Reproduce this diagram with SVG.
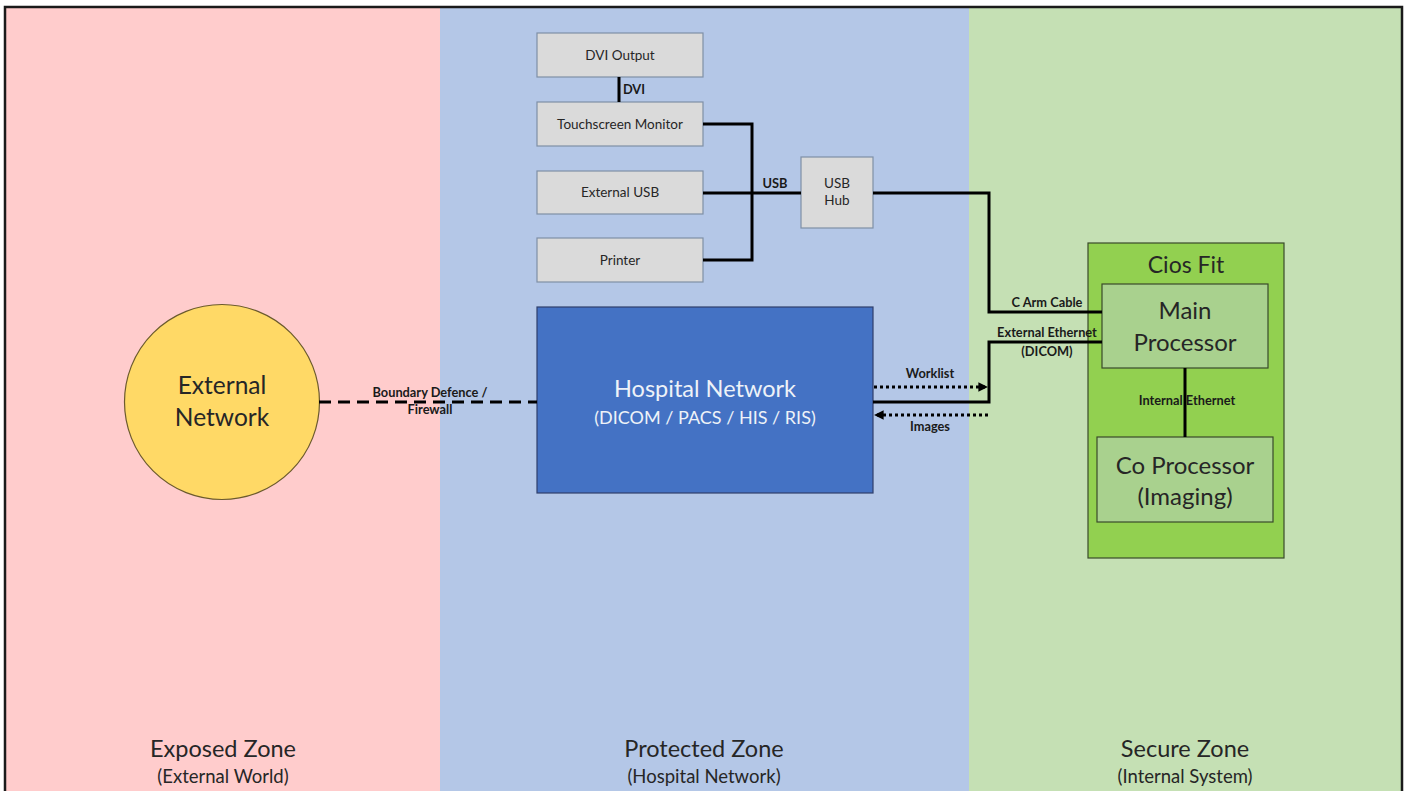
<svg xmlns="http://www.w3.org/2000/svg" width="1407" height="791" viewBox="0 0 1407 791">
<defs>
<style>
text{font-family:Lato,"Open Sans","Liberation Sans",sans-serif;text-anchor:middle;fill:#262626}
.box{fill:#DADADA;stroke:#7F8FA6;stroke-width:1.2}
.small{font-size:13.5px}
.lbl{font-size:12.8px;font-weight:bold;fill:#1a1a1a}
.zone{font-size:23.5px;fill:#262626}
.zsub{font-size:18.5px;fill:#262626}
.wire{fill:none;stroke:#000;stroke-width:3}
.dot{fill:none;stroke:#000;stroke-width:3;stroke-dasharray:3 3}
</style>
<marker id="ah" viewBox="0 0 10 10" refX="9" refY="5" markerWidth="3.2" markerHeight="3.2" orient="auto-start-reverse" markerUnits="strokeWidth">
<path d="M0,0 L10,5 L0,10 z" fill="#000"/>
</marker>
</defs>

<g id="zones">
<rect x="6" y="8" width="434" height="790" fill="#FFCCCC"/>
<rect x="440" y="8" width="529" height="790" fill="#B4C7E7"/>
<rect x="969" y="8" width="433" height="790" fill="#C5E0B4"/>
<path d="M5,800 V7 H1402 V800" fill="none" stroke="#1a1a1a" stroke-width="2.5"/>
<text class="zone" x="223" y="757">Exposed Zone</text>
<text class="zsub" x="223" y="783">(External World)</text>
<text class="zone" x="704" y="757">Protected Zone</text>
<text class="zsub" x="704" y="783">(Hospital Network)</text>
<text class="zone" x="1185" y="757">Secure Zone</text>
<text class="zsub" x="1185" y="783">(Internal System)</text>
</g>

<g id="dvi-output">
<rect class="box" x="537" y="33" width="166" height="44"/>
<text class="small" x="620" y="60">DVI Output</text>
</g>
<g id="touchscreen-monitor">
<rect class="box" x="537" y="102" width="166" height="44"/>
<text class="small" x="620" y="129">Touchscreen Monitor</text>
</g>
<g id="external-usb">
<rect class="box" x="537" y="171" width="166" height="43"/>
<text class="small" x="620" y="197">External USB</text>
</g>
<g id="printer">
<rect class="box" x="537" y="238" width="166" height="44"/>
<text class="small" x="620" y="265">Printer</text>
</g>
<g id="usb-hub">
<rect class="box" x="801" y="157" width="72" height="71"/>
<text class="small" x="837" y="188">USB</text>
<text class="small" x="837" y="205">Hub</text>
</g>
<g id="hospital-network">
<rect x="537" y="307" width="336" height="186" fill="#4472C4" stroke="#2F3F6B" stroke-width="1.2"/>
<text x="705" y="397" font-size="23.5" style="fill:#EEF2F8">Hospital Network</text>
<text x="705" y="424" font-size="18" style="fill:#EEF2F8">(DICOM / PACS / HIS / RIS)</text>
</g>
<g id="external-network">
<circle cx="222" cy="402" r="97.5" fill="#FFD966" stroke="#6B5A2E" stroke-width="1.2"/>
<text x="222" y="394" font-size="24.5">External</text>
<text x="222" y="426" font-size="24.5">Network</text>
</g>
<g id="cios-fit">
<rect x="1088" y="243" width="196" height="315" fill="#92D050" stroke="#3A4A2A" stroke-width="1.2"/>
<text x="1186" y="273" font-size="23">Cios Fit</text>
</g>
<g id="main-processor">
<rect x="1102" y="284" width="166" height="84" fill="#A9D18E" stroke="#3A4A2A" stroke-width="1.2"/>
<text x="1185" y="319" font-size="24">Main</text>
<text x="1185" y="351" font-size="24">Processor</text>
</g>
<g id="co-processor">
<rect x="1097" y="437" width="176" height="85" fill="#A9D18E" stroke="#3A4A2A" stroke-width="1.2"/>
<text x="1185" y="474" font-size="24">Co Processor</text>
<text x="1185" y="505" font-size="24">(Imaging)</text>
</g>

<g id="connectors">
<line x1="619" y1="77" x2="619" y2="102" class="wire"/>
<text class="lbl" x="634" y="94">DVI</text>
<polyline points="703,124 752,124 752,260 703,260" class="wire"/>
<line x1="703" y1="193" x2="801" y2="193" class="wire"/>
<text class="lbl" x="775" y="188">USB</text>
<polyline points="873,193 989,193 989,312 1102,312" class="wire"/>
<text class="lbl" x="1047" y="307">C Arm Cable</text>
<polyline points="873,402 989,402 989,342 1102,342" class="wire"/>
<text class="lbl" x="1047" y="337">External Ethernet</text>
<text class="lbl" x="1047" y="356">(DICOM)</text>
<line x1="874" y1="387" x2="987" y2="387" class="dot" marker-end="url(#ah)"/>
<text class="lbl" x="930" y="378">Worklist</text>
<line x1="988" y1="415" x2="875" y2="415" class="dot" marker-end="url(#ah)"/>
<text class="lbl" x="930" y="431">Images</text>
<line x1="1185" y1="368" x2="1185" y2="437" class="wire"/>
<text class="lbl" x="1187" y="405">Internal Ethernet</text>
<line x1="319" y1="402" x2="537" y2="402" fill="none" stroke="#000" stroke-width="3" stroke-dasharray="12 7"/>
<text class="lbl" x="430" y="397">Boundary Defence /</text>
<text class="lbl" x="430" y="414">Firewall</text>
</g>
</svg>
